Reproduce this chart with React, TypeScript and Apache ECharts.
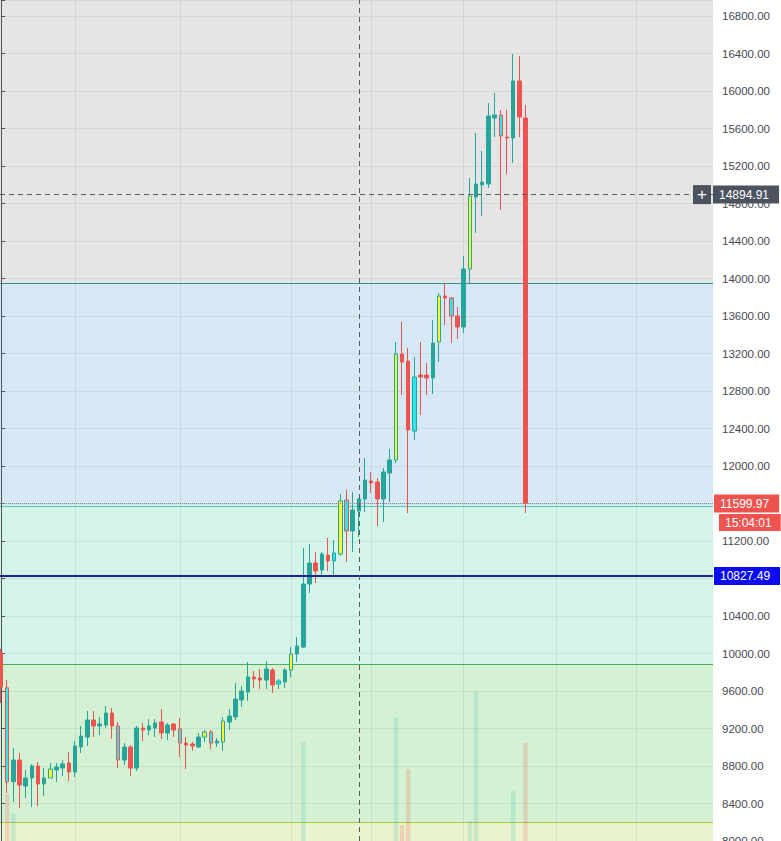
import React, { useEffect, useRef } from "react";
import * as echarts from "echarts";

// [open, close, low, high]
const ohlc: [number, number, number, number][] = [
  [10005, 9643, 9472, 10050],
  [9635, 8629, 8512, 9717],
  [8633, 8864, 8416, 8992],
  [8864, 8597, 8352, 8939],
  [8587, 8672, 8459, 8757],
  [8672, 8800, 8363, 8821],
  [8800, 8608, 8373, 8843],
  [8608, 8672, 8480, 8779],
  [8672, 8768, 8672, 8832],
  [8757, 8789, 8629, 8832],
  [8779, 8821, 8693, 8864],
  [8832, 8736, 8640, 8949],
  [8736, 9013, 8683, 9067],
  [9003, 9120, 8939, 9227],
  [9109, 9291, 9013, 9387],
  [9291, 9227, 9109, 9387],
  [9227, 9248, 9131, 9323],
  [9237, 9365, 9205, 9440],
  [9365, 9227, 9088, 9419],
  [9227, 8864, 8778, 9269],
  [8864, 9002, 8811, 9045],
  [9002, 8778, 8693, 9024],
  [8778, 9205, 8746, 9227],
  [9205, 9184, 9067, 9259],
  [9184, 9227, 9131, 9301],
  [9205, 9259, 9109, 9301],
  [9269, 9152, 9088, 9408],
  [9152, 9237, 9077, 9259],
  [9248, 9184, 9109, 9259],
  [9195, 9045, 8896, 9312],
  [9045, 9024, 8768, 9109],
  [9035, 9013, 8960, 9056],
  [9003, 9109, 8992, 9152],
  [9109, 9163, 9056, 9184],
  [9163, 9045, 8981, 9184],
  [9045, 9067, 9003, 9099],
  [9056, 9280, 8960, 9323],
  [9269, 9333, 9184, 9408],
  [9323, 9515, 9291, 9685],
  [9504, 9600, 9429, 9653],
  [9589, 9749, 9493, 9909],
  [9749, 9728, 9632, 9813],
  [9739, 9717, 9621, 9835],
  [9717, 9835, 9621, 9920],
  [9824, 9664, 9579, 9845],
  [9675, 9707, 9621, 9728],
  [9696, 9824, 9632, 9845],
  [9824, 9994, 9749, 10069],
  [9994, 10080, 9909, 10176],
  [10069, 10741, 10059, 11125],
  [10741, 10965, 10645, 11168],
  [10965, 10880, 10752, 11082],
  [10890, 11061, 10837, 11082],
  [11050, 10987, 10880, 11232],
  [10987, 11072, 10816, 11210],
  [11061, 11627, 11040, 11701],
  [11637, 11306, 10976, 11744],
  [11306, 11531, 11082, 11723],
  [11520, 11648, 11242, 11659],
  [11648, 11851, 11509, 12085],
  [11840, 11819, 11712, 11936],
  [11829, 11648, 11360, 11872],
  [11648, 11936, 11403, 11979],
  [11925, 12064, 11616, 12181],
  [12064, 13195, 12032, 13323],
  [13195, 13109, 12757, 13536],
  [13120, 12384, 11498, 13259],
  [12373, 12949, 12277, 13163],
  [12970, 12949, 12544, 13323],
  [12970, 12939, 12757, 13099],
  [12939, 13312, 12768, 13557],
  [13323, 13813, 13109, 13845],
  [13813, 13792, 13504, 13952],
  [13792, 13600, 13312, 13803],
  [13600, 13483, 13355, 13696],
  [13483, 14101, 13419, 14240],
  [14101, 14880, 13952, 15072],
  [14869, 15008, 14485, 15552],
  [14997, 15029, 14667, 15360],
  [15008, 15733, 14965, 15872],
  [15712, 15744, 15509, 15979],
  [15744, 15520, 14731, 15797],
  [15509, 15498, 15115, 15797],
  [15499, 16107, 15232, 16395],
  [16107, 15723, 15509, 16373],
  [15712, 11599.97, 11498, 15851],
];

const yellowBars = [8, 33, 36, 47, 55, 64, 71, 76];
const cyanBars = [1, 19, 29, 34, 45, 54, 56, 67, 73, 81];

const volumeIndex = [1, 2, 49, 64, 65, 66, 76, 77, 83, 85];
const volumeValue = [47, 28, 99, 124, 16, 72, 20, 150, 50, 98];

const timeGridIndex = [12, 29, 47, 60, 75, 90, 103];
const zoneEdges = [13949, 11573, 9884, 8203];
const zoneColors = ["#e5e5e6", "#d5e8f4", "#d4f4ea", "#d4f2d3", "#e9f3cf"];
const zoneEdgeColors = ["#2e8ea0", "#5cc7b0", "#4cae4f", "#a6cc3a"];

const lastPrice = 11599.97;
const countdown = "15:04:01";
const alertPrice = 10827.49;
const crossPrice = 14894.91;
const crossIndex = 58;

const Y_MIN = 8000;
const Y_MAX = 16970.7;
const FONT = "Liberation Sans";
const W = 781;
const H = 841;

export default function App() {
  const ref = useRef<HTMLDivElement>(null);

  useEffect(() => {
    if (!ref.current) return;
    const chart = echarts.init(ref.current, null, { renderer: "svg", width: W, height: H });

    const candleData = ohlc.map((d, i) => {
      const item: any = { value: [i, d[0], d[1], d[2], d[3]] };
      if (yellowBars.includes(i)) item.itemStyle = { color: "#f6f62a", color0: "#f6f62a" };
      if (cyanBars.includes(i)) item.itemStyle = { color: "#2fe6ee", color0: "#2fe6ee" };
      return item;
    });

    const volData = volumeIndex.map((idx, k) => {
      const d = ohlc[idx];
      const up = d[1] >= d[0];
      return {
        value: [idx, volumeValue[k]],
        itemStyle: { color: up ? "rgba(38,166,154,0.16)" : "rgba(239,83,80,0.2)" },
      };
    });

    const zoneBounds = [Y_MAX + 100, ...zoneEdges, Y_MIN - 100];
    const areas = zoneColors.map((c, k) => [
      { yAxis: zoneBounds[k], itemStyle: { color: c } },
      { yAxis: zoneBounds[k + 1] },
    ]);

    const gridLines: any[] = [
      ...timeGridIndex.map((x) => ({
        xAxis: x,
        lineStyle: { color: "rgba(110,110,110,0.14)", width: 1, type: "solid" },
      })),
      ...zoneEdges.map((y, k) => ({
        yAxis: y,
        lineStyle: { color: zoneEdgeColors[k], width: 1, type: "solid" },
      })),
    ];

    const boxLabel = (text: string, bg: string, extra: any = {}) => ({
      show: true,
      position: "end",
      distance: 1,
      formatter: text,
      backgroundColor: bg,
      color: "#ffffff",
      fontSize: 12,
      fontFamily: FONT,
      padding: [3, 10, 3, 6],
      ...extra,
    });

    const priceLines: any[] = [
      {
        yAxis: lastPrice,
        lineStyle: { color: "#8a8a8a", width: 1, type: "dotted" },
        label: boxLabel(lastPrice.toFixed(2), "#ef5350"),
      },
      {
        yAxis: alertPrice,
        lineStyle: { color: "#1b2391", width: 2, type: "solid" },
        label: boxLabel(alertPrice.toFixed(2), "#0b0bf0"),
      },
      {
        yAxis: crossPrice,
        lineStyle: { color: "#5a5a5a", width: 1, type: [5, 4] },
        label: {
          show: true,
          position: "end",
          distance: 0,
          offset: [-20, 0],
          formatter: "{p|+}{g|}{v|" + crossPrice.toFixed(2) + "}",
          rich: {
            p: {
              backgroundColor: "#4c525e",
              color: "#ffffff",
              width: 18,
              height: 19,
              lineHeight: 19,
              align: "center",
              fontSize: 17,
              fontFamily: FONT,
            },
            g: { width: 2 },
            v: {
              backgroundColor: "#4c525e",
              color: "#ffffff",
              fontSize: 12,
              fontFamily: FONT,
              lineHeight: 13,
              padding: [3, 10, 3, 6],
            },
          },
        },
      },
      {
        xAxis: crossIndex,
        lineStyle: { color: "#5a5a5a", width: 1, type: [5, 4] },
        label: { show: false },
      },
    ];

    const countdownLine: any[] = [
      {
        yAxis: lastPrice,
        lineStyle: { color: "rgba(0,0,0,0)", width: 0 },
        label: boxLabel(countdown, "#ef5350", { offset: [5, 19], padding: [3, 9, 2, 6] }),
      },
    ];

    chart.setOption({
      animation: false,
      backgroundColor: "#ffffff",
      grid: {
        left: 0,
        right: 68,
        top: 0,
        bottom: 0,
        containLabel: false,
        outerBoundsMode: "none",
      },
      xAxis: {
        type: "value",
        min: -0.16,
        max: 115.4,
        show: false,
      },
      yAxis: [
        {
          type: "value",
          position: "right",
          min: Y_MIN,
          max: Y_MAX,
          interval: 400,
          z: 1,
          axisLine: { show: true, lineStyle: { color: "#4e525c", width: 1 } },
          axisTick: { show: true, length: 4, lineStyle: { color: "#4e525c" } },
          axisLabel: {
            color: "#474a52",
            fontSize: 11.5,
            fontFamily: FONT,
            margin: 9,
            formatter: (v: number) =>
              Math.abs(v / 400 - Math.round(v / 400)) < 1e-6 ? v.toFixed(2) : "",
          },
          splitLine: { show: true, lineStyle: { color: "rgba(110,110,110,0.13)", width: 1 } },
        },
        {
          type: "value",
          min: 0,
          max: H,
          show: false,
          splitLine: { show: false },
        },
      ],
      series: [
        {
          type: "line",
          name: "zones",
          xAxisIndex: 0,
          yAxisIndex: 0,
          z: 0,
          silent: true,
          symbol: "none",
          lineStyle: { opacity: 0 },
          data: [[-10, 10000]],
          markArea: { silent: true, z: 0, data: areas },
          markLine: {
            silent: true,
            z: 1,
            symbol: ["none", "none"],
            label: { show: false },
            data: gridLines,
          },
        },
        {
          type: "bar",
          name: "volume",
          xAxisIndex: 0,
          yAxisIndex: 1,
          z: 2,
          barWidth: 4.5,
          silent: true,
          data: volData,
        },
        {
          type: "candlestick",
          name: "price",
          xAxisIndex: 0,
          yAxisIndex: 0,
          z: 3,
          barWidth: 4,
          encode: { x: 0, y: [1, 2, 3, 4] },
          itemStyle: {
            color: "#26a69a",
            color0: "#ef5350",
            borderColor: "#26a69a",
            borderColor0: "#ef5350",
            borderWidth: 1,
          },
          data: candleData,
          markLine: {
            silent: true,
            z: 5,
            symbol: ["none", "none"],
            data: priceLines,
          },
        },
        {
          type: "line",
          name: "countdown",
          xAxisIndex: 0,
          yAxisIndex: 0,
          z: 5,
          silent: true,
          symbol: "none",
          lineStyle: { opacity: 0 },
          data: [[-10, 10000]],
          markLine: {
            silent: true,
            z: 6,
            symbol: ["none", "none"],
            data: countdownLine,
          },
        },
      ],
    });

    return () => chart.dispose();
  }, []);

  return (
    <div
      ref={ref}
      style={{ position: "absolute", left: 0, top: 0, width: W, height: H }}
    />
  );
}
